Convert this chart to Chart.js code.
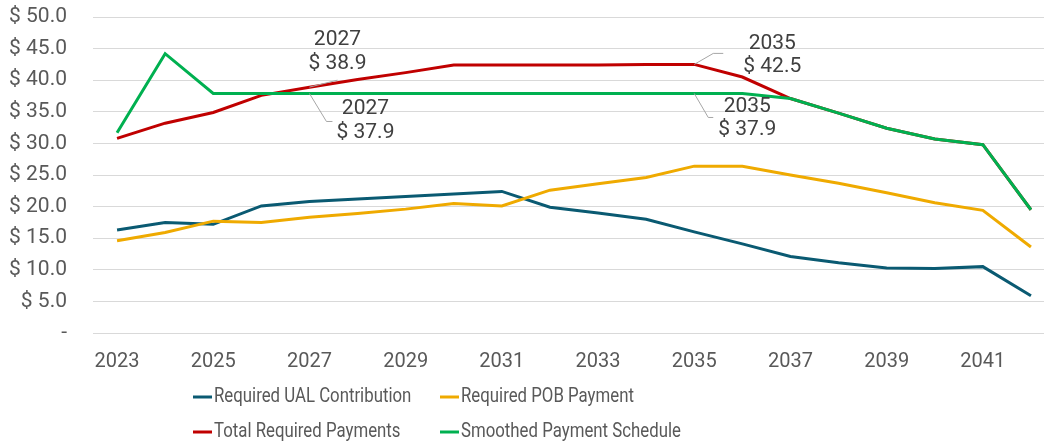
<!DOCTYPE html>
<html>
<head>
<meta charset="utf-8">
<script src="https://cdn.jsdelivr.net/npm/chart.js@4.4.1/dist/chart.umd.min.js"></script>
<style>
  html, body { margin: 0; padding: 0; background: #fff; overflow: hidden; }
</style>
</head>
<body>
<canvas id="chart" width="1055" height="445"></canvas>
<script>
const years = [2023, 2024, 2025, 2026, 2027, 2028, 2029, 2030, 2031, 2032,
               2033, 2034, 2035, 2036, 2037, 2038, 2039, 2040, 2041, 2042];
const ual      = [16.3, 17.5, 17.2, 20.1, 20.8, 21.2, 21.6, 22.0, 22.4, 19.9,
                  19.0, 18.0, 16.0, 14.1, 12.1, 11.1, 10.3, 10.2, 10.5, 5.9];
const pob      = [14.6, 15.9, 17.7, 17.5, 18.3, 18.9, 19.6, 20.5, 20.1, 22.6,
                  23.6, 24.6, 26.4, 26.4, 25.0, 23.7, 22.2, 20.6, 19.4, 13.6];
const total    = [30.8, 33.2, 34.9, 37.6, 38.9, 40.1, 41.2, 42.4, 42.4, 42.4,
                  42.4, 42.5, 42.5, 40.5, 37.1, 34.8, 32.4, 30.7, 29.8, 19.5];
const smoothed = [31.7, 44.2, 37.9, 37.9, 37.9, 37.9, 37.9, 37.9, 37.9, 37.9,
                  37.9, 37.9, 37.9, 37.9, 37.1, 34.8, 32.4, 30.7, 29.8, 19.5];
const seriesNames = ["Required UAL Contribution", "Required POB Payment",
                     "Total Required Payments", "Smoothed Payment Schedule"];
const seriesColors = ["#0a5a72", "#efaa00", "#c00000", "#00b050"];

// data labels shown on the chart (dataset index, year)
const callouts = [
  { ds: 2, year: 2027, leader: [[28, -7]],             text: [28, -47, -23] },
  { ds: 3, year: 2027, leader: [[17, 28], [23, 28]],   text: [56, 15, 39] },
  { ds: 2, year: 2035, leader: [[19, -11], [29, -11]], text: [78, -21, 2] },
  { ds: 3, year: 2035, leader: [[14, 24], [19, 24]],   text: [53, 13, 36] }
];

const FONT = "Roboto, 'Liberation Sans', Arial, sans-serif";
const GRAY = "#595959";

function money(v) {
  return "$ " + v.toFixed(1);
}

const calloutPlugin = {
  id: "callouts",
  afterDatasetsDraw(chart) {
    const ctx = chart.ctx;
    ctx.save();
    callouts.forEach(c => {
      const i = years.indexOf(c.year);
      const pt = chart.getDatasetMeta(c.ds).data[i];
      const val = chart.data.datasets[c.ds].data[i];
      ctx.strokeStyle = "#a6a6a6";
      ctx.lineWidth = 1;
      ctx.beginPath();
      ctx.moveTo(pt.x, pt.y);
      c.leader.forEach(p => ctx.lineTo(pt.x + p[0], pt.y + p[1]));
      ctx.stroke();
      ctx.fillStyle = "#404040";
      ctx.font = "21px " + FONT;
      ctx.textAlign = "center";
      ctx.textBaseline = "middle";
      ctx.fillText(String(c.year), pt.x + c.text[0], pt.y + c.text[1]);
      ctx.fillText(money(val), pt.x + c.text[0], pt.y + c.text[2]);
    });
    ctx.restore();
  }
};

// the original font is narrow, so legend text is squeezed a little
const LEGEND_SQUEEZE = 0.8;

const legendPlugin = {
  id: "gridLegend",
  afterDraw(chart) {
    const ctx = chart.ctx;
    const cols = [193, 440];
    const rows = [397, 432];
    ctx.save();
    ctx.font = "21px " + FONT;
    ctx.textBaseline = "middle";
    ctx.textAlign = "left";
    chart.data.datasets.forEach((d, k) => {
      const x = cols[k % 2];
      const y = rows[Math.floor(k / 2)];
      ctx.strokeStyle = d.borderColor;
      ctx.lineWidth = 3;
      ctx.beginPath();
      ctx.moveTo(x, y);
      ctx.lineTo(x + 19, y);
      ctx.stroke();
      ctx.fillStyle = GRAY;
      ctx.save();
      ctx.translate(x + 21, y);
      ctx.scale(LEGEND_SQUEEZE, 1);
      ctx.fillText(d.label, 0, 0);
      ctx.restore();
    });
    ctx.restore();
  }
};

const seriesData = [ual, pob, total, smoothed];
const drawOrder = [4, 3, 2, 1];

new Chart(document.getElementById("chart"), {
  type: "line",
  data: {
    labels: years.map(String),
    datasets: seriesData.map((d, k) => ({
      label: seriesNames[k],
      data: d,
      borderColor: seriesColors[k],
      backgroundColor: seriesColors[k],
      borderWidth: 3,
      pointRadius: 0,
      tension: 0,
      order: drawOrder[k]
    }))
  },
  options: {
    responsive: false,
    animation: false,
    layout: { padding: { top: 17, bottom: 67, left: 0, right: 0 } },
    plugins: {
      legend: { display: false },
      tooltip: { enabled: false }
    },
    scales: {
      x: {
        offset: true,
        grid: { display: false },
        border: { display: false },
        ticks: {
          autoSkip: false,
          maxRotation: 0,
          padding: 9,
          color: GRAY,
          font: { family: FONT, size: 20 },
          callback: (v, i) => (i % 2 === 0 ? years[i] : "")
        },
        afterFit: s => { s.height = 45; s.paddingLeft = 0; s.paddingRight = 0; }
      },
      y: {
        min: 0,
        max: 50,
        grid: { color: "#d9d9d9", lineWidth: 1, drawTicks: false },
        border: { display: false },
        ticks: {
          stepSize: 5,
          padding: 26,
          color: GRAY,
          font: { family: FONT, size: 21 },
          callback: v => (v === 0 ? "-" : money(v))
        },
        afterFit: s => { s.width = 93; s.paddingTop = 0; s.paddingBottom = 0; }
      }
    }
  },
  plugins: [calloutPlugin, legendPlugin]
});
</script>
</body>
</html>
